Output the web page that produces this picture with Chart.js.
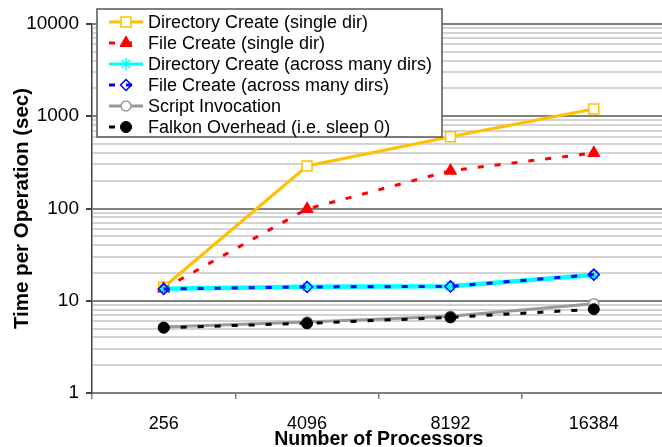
<!DOCTYPE html>
<html><head><meta charset="utf-8">
<script src="https://cdn.jsdelivr.net/npm/chart.js@4"></script>
<style>html,body{margin:0;padding:0;overflow:hidden;background:#fff}#wrap{width:674px;height:447px;position:relative}</style>
</head><body>
<div id="wrap"><canvas id="c" width="674" height="447" style="width:674px;height:447px;display:block"></canvas></div>
<script>
const categories = ['256', '4096', '8192', '16384'];
const dirCreateSingle = [14, 289, 600, 1200];
const fileCreateSingle = [13.5, 99, 257, 400];
const dirCreateMany = [13.5, 14.2, 14.4, 19.0];
const fileCreateMany = [13.4, 14.1, 14.3, 19.2];
const scriptInvocation = [5.2, 5.9, 6.8, 9.3];
const falkonOverhead = [5.1, 5.7, 6.6, 8.1];
const yTickLabels = [1, 10, 100, 1000, 10000];
const seriesNames = [
  'Directory Create (single dir)',
  'File Create (single dir)',
  'Directory Create (across many dirs)',
  'File Create (across many dirs)',
  'Script Invocation',
  'Falkon Overhead (i.e. sleep 0)'
];

const FONT = "'Liberation Sans', Arial, sans-serif";
const DASH = [6, 11];

// all log ticks (1..9 per decade) for minor grid lines
const allTicks = [];
for (let d = 1; d < 10000; d *= 10) for (let m = 1; m < 10; m++) allTicks.push(d * m);
allTicks.push(10000);

const datasets = [
  {label: seriesNames[0], data: dirCreateSingle, borderColor: '#FFC000', borderWidth: 3,
   pointStyle: 'rect', pointRadius: 7, pointBorderColor: '#FFC000', pointBackgroundColor: '#ffffff', pointBorderWidth: 1.5},
  {label: seriesNames[1], data: fileCreateSingle, borderColor: '#FF0000', borderWidth: 3, borderDash: DASH,
   pointStyle: 'triangle', pointRadius: 7, pointBorderColor: '#FF0000', pointBackgroundColor: '#FF0000', pointBorderWidth: 1},
  {label: seriesNames[2], data: dirCreateMany, borderColor: '#00FFFF', borderWidth: 4.5,
   pointStyle: 'star', pointRadius: 6, pointBorderColor: '#00FFFF', pointBackgroundColor: '#00FFFF', pointBorderWidth: 1.5},
  {label: seriesNames[3], data: fileCreateMany, borderColor: '#0000FF', borderWidth: 3, borderDash: DASH,
   pointStyle: 'rectRot', pointRadius: 5.5, pointBorderColor: '#0000FF', pointBackgroundColor: 'rgba(0,0,0,0)', pointBorderWidth: 1.5},
  {label: seriesNames[4], data: scriptInvocation, borderColor: '#999999', borderWidth: 3,
   pointStyle: 'circle', pointRadius: 5, pointBorderColor: '#999999', pointBackgroundColor: '#ffffff', pointBorderWidth: 1.5},
  {label: seriesNames[5], data: falkonOverhead, borderColor: '#000000', borderWidth: 3, borderDash: DASH,
   pointStyle: 'circle', pointRadius: 5.5, pointBorderColor: '#000000', pointBackgroundColor: '#000000', pointBorderWidth: 1}
].map((d, i, arr) => Object.assign(d, {order: arr.length - 1 - i, tension: 0, fill: false, borderCapStyle: 'butt', pointHoverRadius: d.pointRadius}));

const legendPlugin = {
  id: 'customLegend',
  afterDraw(chart) {
    const ctx = chart.ctx;
    const bx = 97, by = 9, bw = 345, bh = 128;
    ctx.save();
    ctx.fillStyle = '#ffffff';
    ctx.fillRect(bx, by, bw, bh);
    ctx.strokeStyle = '#555555';
    ctx.lineWidth = 1.5;
    ctx.strokeRect(bx, by, bw, bh);
    chart.data.datasets.forEach((ds, i) => {
      const y = 22 + i * 21;
      ctx.save();
      ctx.strokeStyle = ds.borderColor;
      ctx.lineWidth = Math.min(ds.borderWidth, 3);
      ctx.lineCap = 'butt';
      ctx.setLineDash(ds.borderDash || []);
      ctx.beginPath();
      ctx.moveTo(109, y);
      ctx.lineTo(143, y);
      ctx.stroke();
      ctx.setLineDash([]);
      ctx.fillStyle = ds.pointBackgroundColor;
      ctx.strokeStyle = ds.pointBorderColor;
      ctx.lineWidth = ds.pointBorderWidth;
      Chart.helpers.drawPoint(ctx, {pointStyle: ds.pointStyle, radius: ds.pointRadius, rotation: 0, borderWidth: ds.pointBorderWidth}, 126, y);
      ctx.restore();
      ctx.fillStyle = '#000000';
      ctx.font = '18px ' + FONT;
      ctx.textBaseline = 'middle';
      ctx.textAlign = 'left';
      ctx.fillText(ds.label, 148, y + 1);
    });
    ctx.restore();
  }
};

new Chart(document.getElementById('c'), {
  type: 'line',
  data: {labels: categories, datasets},
  options: {
    responsive: false,
    animation: false,
    devicePixelRatio: 1,
    layout: {padding: {top: 24, right: 0, left: 0, bottom: 0}},
    plugins: {legend: {display: false}, tooltip: {enabled: false}},
    scales: {
      x: {
        type: 'category',
        offset: true,
        grid: {offset: true, drawOnChartArea: false, drawTicks: true, tickLength: 6, color: '#808080', lineWidth: 1.5},
        border: {color: '#808080', width: 2},
        ticks: {font: {family: FONT, size: 18}, color: '#000', padding: 14, maxRotation: 0},
        title: {display: true, text: 'Number of Processors', color: '#000',
                font: {family: FONT, size: 19.5, weight: 'bold', lineHeight: 0.8}, padding: 0},
        afterFit(s) { s.height = 54; }
      },
      y: {
        type: 'logarithmic',
        min: 1, max: 10000,
        afterBuildTicks(s) { s.ticks = allTicks.map(v => ({value: v})); },
        ticks: {
          autoSkip: false,
          font: {family: FONT, size: 19}, color: '#000', padding: 7,
          callback: (v) => yTickLabels.includes(v) ? String(v) : ''
        },
        grid: {
          color: (c) => (c.tick && yTickLabels.includes(c.tick.value)) ? '#808080' : '#d3d3d3',
          lineWidth: 2,
          tickColor: (c) => (c.tick && yTickLabels.includes(c.tick.value)) ? '#404040' : 'rgba(0,0,0,0)',
          tickLength: 6
        },
        border: {color: '#404040', width: 1.5},
        title: {display: true, text: 'Time per Operation (sec)', color: '#000',
                font: {family: FONT, size: 20.5, weight: 'bold'}, padding: {top: 10.2, bottom: 0}},
        afterFit(s) { s.width = 92; }
      }
    }
  },
  plugins: [legendPlugin]
});
</script>
</body></html>
